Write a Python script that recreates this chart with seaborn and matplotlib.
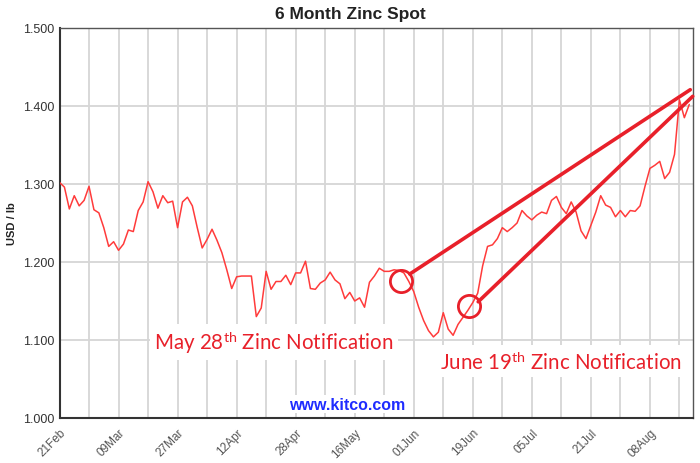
import numpy as np
import pandas as pd
import matplotlib
matplotlib.use("Agg")
import matplotlib.pyplot as plt
import seaborn as sns

# ---- data ----
prices = [
    1.302, 1.296, 1.268, 1.285, 1.272, 1.279, 1.297, 1.267, 1.263, 1.244,
    1.220, 1.226, 1.215, 1.223, 1.241, 1.239, 1.266, 1.277, 1.303, 1.290,
    1.269, 1.285, 1.276, 1.278, 1.244, 1.277, 1.283, 1.272, 1.244, 1.218,
    1.229, 1.242, 1.228, 1.212, 1.190, 1.166, 1.181, 1.182, 1.182, 1.182,
    1.130, 1.141, 1.188, 1.165, 1.175, 1.175, 1.183, 1.171, 1.186, 1.186,
    1.201, 1.166, 1.165, 1.173, 1.177, 1.187, 1.177, 1.172, 1.153, 1.161,
    1.150, 1.154, 1.142, 1.174, 1.182, 1.192, 1.188, 1.188, 1.190, 1.189,
    1.186, 1.175, 1.162, 1.142, 1.125, 1.112, 1.104, 1.110, 1.135, 1.114,
    1.106, 1.120, 1.129, 1.138, 1.148, 1.160, 1.195, 1.220, 1.222, 1.230,
    1.244, 1.239, 1.244, 1.250, 1.266, 1.259, 1.254, 1.260, 1.264, 1.262,
    1.279, 1.284, 1.270, 1.262, 1.277, 1.264, 1.240, 1.230, 1.247, 1.264,
    1.285, 1.273, 1.270, 1.258, 1.266, 1.258, 1.266, 1.265, 1.272, 1.297,
    1.320, 1.324, 1.329, 1.307, 1.315, 1.338, 1.408, 1.385, 1.402,
]
day_index = list(range(len(prices)))
date_labels = ["21Feb", "09Mar", "27Mar", "12Apr", "28Apr", "16May",
               "01Jun", "19Jun", "05Jul", "21Jul", "08Aug"]
label_index = [0, 12, 24, 36, 48, 60, 72, 84, 96, 108, 120]
y_ticks = [1.0, 1.1, 1.2, 1.3, 1.4, 1.5]
y_tick_labels = ["1.000", "1.100", "1.200", "1.300", "1.400", "1.500"]

# notification markers: (x index, price) and trend lines
may_circle = (69.5, 1.176)
june_circle = (83.2, 1.143)
may_line_x = [71.2, 128.2]
may_line_y = [1.1846, 1.4209]
june_line_x = [85.1, 128.7]
june_line_y = [1.149, 1.4124]

df = pd.DataFrame({"idx": day_index, "price": prices})

sns.set_theme(style="white")
plt.rcParams["font.family"] = ["Liberation Sans", "DejaVu Sans"]
plt.rcParams["mathtext.fontset"] = "custom"
plt.rcParams["mathtext.rm"] = "Lato"
plt.rcParams["mathtext.it"] = "Lato"

fig = plt.figure(figsize=(7.0, 4.64), dpi=100)
ax = fig.add_axes([0.085, 0.097, 0.9046, 0.8405])

# grid
for v in np.arange(0, 129, 6):
    ax.axvline(v, color="#d6d6d6", lw=1.3, zorder=0)
for v in y_ticks:
    ax.axhline(v, color="#d6d6d6", lw=1.3, zorder=0)

sns.lineplot(data=df, x="idx", y="price", ax=ax, color="#ff3b3b", lw=1.1, zorder=3)

red = "#e8202a"
ax.plot(may_line_x, may_line_y, color=red, lw=2.6, solid_capstyle="round", zorder=4, clip_on=False)
ax.plot(june_line_x, june_line_y, color=red, lw=2.6, solid_capstyle="round", zorder=4, clip_on=False)
for c in (may_circle, june_circle):
    ax.plot([c[0]], [c[1]], marker="o", ms=16, mfc="none", mec=red, mew=2.0, zorder=5)

ax.set_xlim(0, 128.7)
ax.set_ylim(1.0, 1.5)
ax.set_yticks(y_ticks)
ax.set_yticklabels(y_tick_labels)
ax.set_xticks(label_index)
ax.set_xticklabels(date_labels, rotation=45, ha="right", rotation_mode="anchor")
ax.tick_params(axis="y", direction="in", length=5, width=1.2, color="#222", labelsize=9,
               labelcolor="#333", pad=4)
ax.tick_params(axis="x", length=0, labelsize=8.5, labelcolor="#555", pad=6)
ax.set_xlabel("")
ax.set_ylabel("USD / lb", fontsize=8, fontweight="bold", color="#222", labelpad=4)

for s in ("top", "right"):
    ax.spines[s].set_color("#555")
    ax.spines[s].set_linewidth(1.0)
for s in ("left", "bottom"):
    ax.spines[s].set_color("#333")
    ax.spines[s].set_linewidth(1.5)

fig.text(0.5, 0.968, "6 Month Zinc Spot", ha="center", va="center",
         fontsize=12.5, fontweight="bold", color="#222")

bbox = dict(facecolor="white", edgecolor="none", pad=3)
ax.text(0.339, 0.195, r"May 28$^{\mathrm{th}}$ Zinc Notification", transform=ax.transAxes,
        ha="center", va="center", fontsize=14.8, color=red, family="Lato", bbox=bbox, zorder=6)
ax.text(0.792, 0.146, r"June 19$^{\mathrm{th}}$ Zinc Notification", transform=ax.transAxes,
        ha="center", va="center", fontsize=14.8, color=red, family="Lato", bbox=bbox, zorder=6)
ax.text(0.455, 0.035, "www.kitco.com", transform=ax.transAxes, ha="center", va="center",
        fontsize=11.5, fontweight="bold", color="#1f2cff", bbox=dict(facecolor="white", edgecolor="none", pad=1), zorder=6)

fig.savefig("out.png", dpi=100)
